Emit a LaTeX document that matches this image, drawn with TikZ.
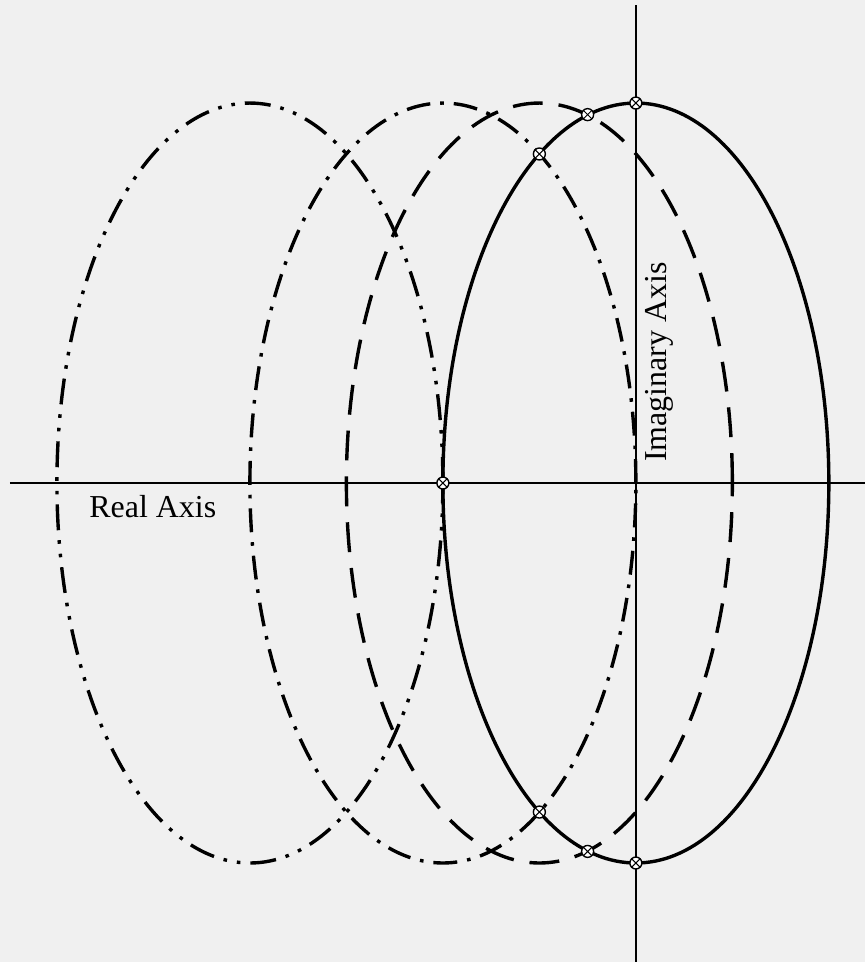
\documentclass[tikz,border=0pt]{standalone}
\usepackage{fontspec}
\setmainfont{Liberation Serif}

\begin{document}
\begin{tikzpicture}[x=3.4cm,y=3.4cm,
  curve/.style={line width=1.7pt},
  dashcurve/.style={curve,dash pattern=on 15pt off 8pt},
  dotcurve/.style={curve,dash pattern=on 12pt off 5pt on 1.8pt off 5pt},
  ddotcurve/.style={curve,dash pattern=on 13pt off 5pt on 1.8pt off 5pt on 1.8pt off 5pt},
  axis/.style={line width=0.8pt},
  pt/.style={draw,circle,line width=0.7pt,minimum size=6pt,inner sep=0pt,fill=white,
    path picture={\draw[line width=0.5pt] (path picture bounding box.north west)--(path picture bounding box.south east)
      (path picture bounding box.south west)--(path picture bounding box.north east);}}]
\fill[black!6] (-3.295,-2.482) rectangle (1.187,2.503);
\useasboundingbox (-3.295,-2.482) rectangle (1.187,2.503);
\def\ry{1.969}
% axes
\coordinate (xl) at (-3.244,0);
\coordinate (xr) at (1.187,0);
\coordinate (yt) at (0,2.477);
\coordinate (yb) at (0,-2.482);
\draw[axis] (xl)--(xr);
\draw[axis] (yt)--(yb);
\node[font=\fontsize{16}{19}\selectfont] (re) at (-2.503,-0.124) {Real Axis};
\node[rotate=90,font=\fontsize{16}{19}\selectfont] (im) at (0.124,0.627) {Imaginary Axis};
% loci
\draw[ddotcurve] (-2,0) ellipse [x radius=1,y radius=\ry];
\draw[dotcurve] (-1,0) ellipse [x radius=1,y radius=\ry];
\draw[dashcurve] (-0.5,0) ellipse [x radius=1,y radius=\ry];
\draw[curve] (0,0) ellipse [x radius=1,y radius=\ry];
% crossing points
\foreach \n/\px/\py in {a/0/\ry, b/-0.25/1.909, c/-0.5/1.705, d/-1/0,
                        e/-0.5/-1.705, f/-0.25/-1.909, g/0/-\ry}
  \node[pt] (\n) at (\px,\py) {};
\end{tikzpicture}
\end{document}
